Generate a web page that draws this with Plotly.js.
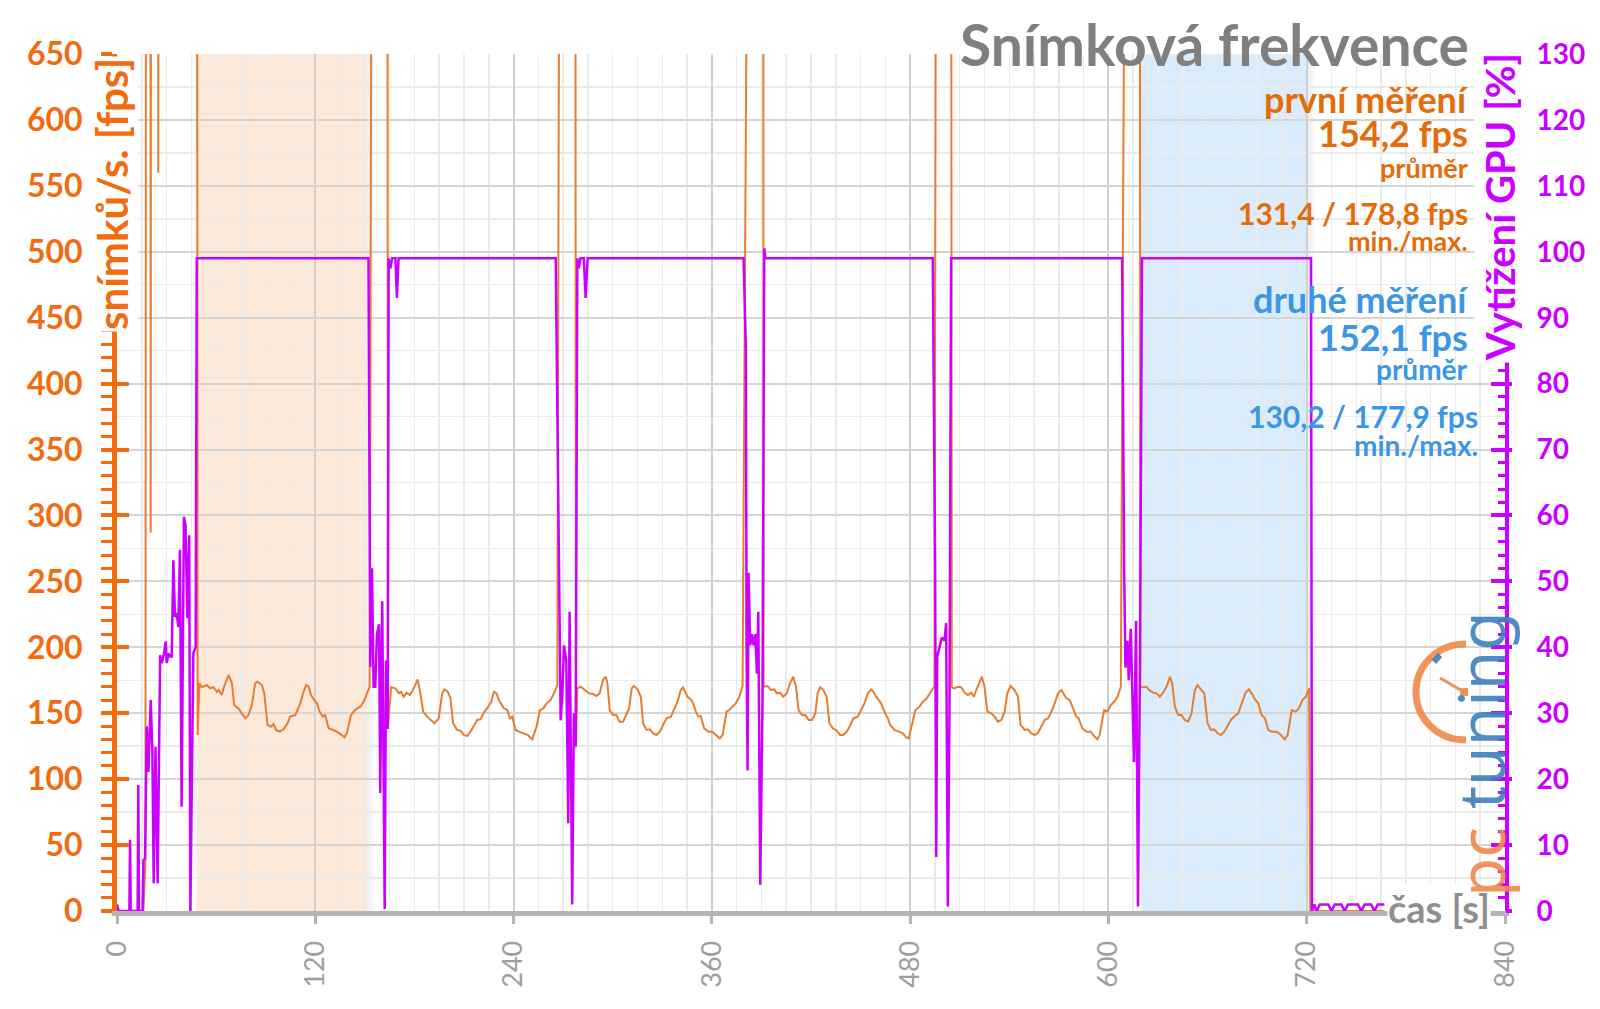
<!DOCTYPE html>
<html><head><meta charset="utf-8">
<script src="https://cdn.plot.ly/plotly-3.0.1.min.js"></script>
<style>html,body{margin:0;padding:0;background:#fff;} #chart{width:1600px;height:1009px;}</style>
</head><body><div id="chart"></div>
<script>
// ---- data ----
const fpsTime = [0,16,16.6,17.2,17.6,20.2,20.4,20.6,24.8,25.0,25.2,48.4,48.8,
 49.9,51.3,54.3,56.4,58.4,60.4,61.5,63.4,64.8,67.5,69.5,70.9,73.5,75.5,77.6,79.6,81.6,83.6,85,87.7,89.1,91.1,93.1,94.7,96.3,98.4,100.8,103.2,104.8,107.9,110.9,112.9,114.5,116,117.4,119.4,121,122.6,124.6,126,128.1,130.7,133.1,135.2,137.6,139.2,141.6,143.2,145.3,147.3,149.3,151.3,152.9,
 154.3,163.6,164.0,
 165.9,168.5,170.5,171.9,173.5,175.2,177.2,179.6,182,183.6,185.3,187.7,190.1,192.1,194.7,196.8,198.2,200.2,201.8,203.4,205.9,207.9,209.9,211.9,213.9,215.9,218,220,222.4,224,226.5,228.1,229.7,231.1,232.5,234.1,236.2,237.8,239.2,241.2,243.2,246.3,248.7,251.3,253.9,255.9,258,260,262.4,264.4,266.5,
 267.9,277.4,277.7,
 278.6,280.6,283.2,285.7,288.1,290.1,292.1,294.1,295.8,296.8,298.2,300.2,302.2,304.2,306.3,308.3,309.9,311.5,312.9,315,317,318.4,320.4,322.4,324.4,326.5,328.5,330.5,332.5,335.2,337.2,339.2,341.2,342.6,343.8,345.3,347.3,348.7,350.3,351.9,353.3,355.3,358,360.4,362.4,364.8,366.5,368.9,370.5,372.5,374.5,376.6,378.6,
 382,391.1,391.3,
 393.7,395.8,397.8,399.2,401.2,403.2,405.3,407.3,409.3,410.9,412.5,414.5,416.5,418.6,420.6,422.6,424,425.5,427.5,429.5,431.1,433.1,435.2,437.6,439.6,441.6,443.6,445.6,448.3,450.3,452.3,454.4,456.4,457.8,459.4,461,462.4,464.4,466.5,467.9,470.5,473.2,475.6,477.6,479.2,480.6,483.2,485.7,487.7,490.1,492.7,494.7,
 495.8,504.8,505.2,
 506.5,508.9,510.9,512.9,515,517,518.6,520,522,523.4,525,526.7,529.1,531.1,533.1,535.2,537.2,538.8,540.8,543.2,545.3,546.8,549.3,551.3,553.3,555.3,557.4,559.4,561.4,563.4,565.5,567.5,569.5,571.5,573.1,574.5,576.6,578.6,580.6,582,584.1,586.7,589.3,591.3,593.3,594.7,597.4,599.4,601.4,603.5,605.5,607.5,
 610.3,619.0,619.3,
 621,623,625,627.1,629.1,631.1,633.1,635.2,637.2,638.6,640.2,642.2,644.2,646.2,648.3,650.3,652.3,653.9,655.9,658,660,662,664,666.1,668.1,670.1,672.1,674.1,676.5,678.6,681,683,685,686.7,688.7,690.7,692.7,694.7,696.8,698.8,701.8,704.4,706.8,708.5,710.9,713.3,715.3,717.4,719.4,721.4,
 722.2,767];
const fpsValue = [0,0,18,38,900,900,287,900,900,560,900,900,133.5,
 172.7,169.7,171.4,168.9,169.7,166.3,167.6,163.8,170.1,179,172.9,156.2,153.7,149.9,146.1,148.6,156.2,172.7,173.9,171.4,165.1,141.1,139.8,141.8,137.3,136,137.8,142.4,147.4,148.6,157.5,166.3,171.4,170.1,163.8,160,157.5,151.2,147.4,148.6,138.6,137.3,136,134.2,131.7,135.2,148.6,151.2,153.7,154.9,158.7,165.1,170.1,
 900,900,139.8,
 169.7,168.9,165.1,166.3,162.5,165.6,163.8,168.9,175.7,165.1,151.2,147.4,144.9,142.4,146.1,165.1,168.1,166.3,161.3,142.4,137.3,136.8,133.5,132.7,136,140.3,144.9,145.4,151.2,153.7,158.7,166.3,165.1,160,157.5,153.7,152.4,146.1,147.4,137.3,136,134.8,133.5,130.2,139.8,152.4,153.7,157.5,160,165.1,171.4,
 900,900,124,
 168.9,170.1,167.6,165.1,164.6,163.1,165.1,175.2,177.7,172.7,152.4,148.6,148.6,143.6,143.6,148.6,153.7,168.9,170.6,168.1,162.5,142.4,137.3,137.8,134.8,133.5,136,141.1,146.1,147.4,153,158.7,167.6,169.7,166.3,162.5,160.5,157.5,151.2,147.4,147.9,138.6,136,136,133.5,131,133.5,151.2,152.4,155,157.5,162.5,170.6,
 900,900,170.1,
 170.6,167.6,168.1,165.1,165.6,162.5,165.1,172.7,177.7,170.1,152.4,148.6,148.6,144.9,144.9,149.9,165.1,169.7,167.6,162.5,142.4,138.6,137.3,133.5,133.5,136,140.3,146.1,147.4,152.4,157.5,165.1,168.1,166.3,162.5,160,157.5,151.2,146.1,141.1,137.3,136,134.8,131.7,131,138.6,152.4,155,158.7,161.3,166.3,170.6,
 900,900,169.7,
 168.9,170.1,169.7,165.6,163.8,165.6,162.5,167.6,173.9,177.7,170.1,151.2,149.9,147.4,143.6,144.9,151.2,165.1,170.6,167.6,162.5,141.1,137.3,137.8,134.8,133.5,135.2,139.8,144.9,146.1,151.2,157.5,165.1,167.6,163.8,161.3,160,153.7,147.4,146.1,138.6,136,136,132.7,130.2,133.5,152.4,151.2,156.2,158.7,162.5,170.1,
 900,900,170.1,
 169.7,170.1,167.1,165.6,165.1,162.5,165.6,170.1,177.7,172.7,155,148.6,148.6,144.9,143.6,149.9,167.6,171.4,168.1,165.1,142.4,137.3,137.8,134.8,133.5,136,140.3,144.9,147.9,149.9,158.7,165.6,168.1,165.1,160.5,157.5,148.6,146.1,137.3,136,136,133.5,130.2,133.5,152.4,151.2,153.7,160,162.5,168.9,
 0,0];

const gpuTime = [0,1,7.5,7.9,8.3,12.5,12.9,13.3,15.5,16,17,18,19,20.4,21.4,22.2,23.3,24.6,26.1,27.1,28.5,29.5,30.1,31.1,32.1,33.1,34.1,35.1,36.1,37.1,38.1,39.1,40.5,41.5,42.6,43.7,44.4,46.2,47.6,48.3,
 152.2,153.3,154.3,155.3,156.3,157.3,158.6,159.3,160.5,162,162.8,163.8,164.4,165.5,166.5,168.5,169.4,170.4,
 265.5,267.5,268.5,269.5,270.5,271.9,273.1,273.9,275.5,276.5,277.6,278.6,279.5,280.5,282.5,283.6,284.8,
 379.2,380.6,381,381.6,382.2,383.2,384.2,385.3,386.3,387.3,388.1,389.3,390.7,391.7,392.5,
 493.7,495.1,495.8,496.4,497.8,499.2,500.8,501.8,502.8,503.8,504.8,
 608.3,609.5,610.3,611.5,612.3,613.5,614.3,615.5,616.7,617.9,619.1,620.3,
 722.6,723.2,724.5,726,728,733,735,737,741,743,745,751,753,755,759,761,763,767];
const gpuValue = [1,0,0,10.8,0,0,19.1,0,0,7.7,8,28,21.1,32,24.4,4.2,24.9,4.2,38.8,37.6,39.1,40.9,37.6,39.1,38.6,38.6,53.2,44.6,45.2,43.1,54.8,15.8,59.8,58.5,44.4,57,0,39.1,40,99,
 99,37,52,34,34,42,43.5,17.9,47,0.3,38,27.6,99,97.5,99,99,93,99,
 99,51,28.9,33,40.3,38,13.3,45.4,1,30,25,99,97.5,99,99,93,99,
 99,85,40,21.3,51.3,40.3,42,40.3,42,36,45.4,4,33,100.5,99,
 99,53,8.2,38.6,40.3,41.5,41,43.7,0.7,30,99,
 99,52,36.9,41,35,42.8,35.5,22.6,44,0.7,38,99,
 99,0,1,0,1,1,0,1,1,0,1,1,0,1,1,0,1,1];

const xTicks = [0,120,240,360,480,600,720,840];
const runStart = [48.5, 620];
const runEnd = [151.5, 720.6];

const titleText = 'Snímková frekvence';
const leftTitle = 'snímků/s. [fps]';
const rightTitle = 'Vytížení GPU [%]';
const xTitle = 'čas [s]';
const run1Lines = ['první měření', '154,2 fps', 'průměr', '131,4 / 178,8 fps', 'min./max.'];
const run2Lines = ['druhé měření', '152,1 fps', 'průměr', '130,2 / 177,9 fps', 'min./max.'];

// ---- styling ----
const FONT = 'Lato, "Open Sans", sans-serif';
const ORANGE = '#f26b0f';
const ORANGE_TXT = '#e46c0a';
const LINE_OR = '#e67e32';
const PURPLE = '#cc00ff';
const BLUE = '#3c96e6';
const GRAY = '#7f7f7f';

const traces = [
  {x: fpsTime, y: fpsValue, mode: 'lines', line: {color: LINE_OR, width: 2}, yaxis: 'y', hoverinfo: 'skip'},
  {x: gpuTime, y: gpuValue, mode: 'lines', line: {color: PURPLE, width: 2.5}, yaxis: 'y2', hoverinfo: 'skip'},
  {x: [xTicks[0]], y: [0], mode: 'markers', marker: {opacity: 0}, yaxis: 'y3', hoverinfo: 'skip'},
  {x: [xTicks[0]], y: [0], mode: 'markers', marker: {opacity: 0}, yaxis: 'y4', hoverinfo: 'skip'}
];

const regionColors = ['rgba(252,226,204,0.75)', 'rgba(206,228,250,0.75)'];
const shapes = [];
runStart.forEach((s, i) => {
  shapes.push({type: 'rect', xref: 'x', yref: 'paper', x0: s, x1: runEnd[i], y0: 0, y1: 1,
    fillcolor: regionColors[i], line: {width: 0}, layer: 'below'});
  // soft shadow at the region edges
  [1.5, 3, 4.5].forEach(w => {
    shapes.push({type: 'rect', xref: 'x', yref: 'paper', x0: runEnd[i], x1: runEnd[i] + w, y0: 0, y1: 1,
      fillcolor: 'rgba(120,120,120,0.035)', line: {width: 0}, layer: 'below'});
    shapes.push({type: 'rect', xref: 'x', yref: 'paper', x0: s - w / 1.5, x1: s, y0: 0, y1: 1,
      fillcolor: 'rgba(120,120,120,0.02)', line: {width: 0}, layer: 'below'});
  });
});
// logo gauge (decoration)
const LX = (1464 - 117) / 1388, LY = (911 - 692) / 857;
shapes.push({type: 'path', xref: 'paper', yref: 'paper', xsizemode: 'pixel', ysizemode: 'pixel', xanchor: LX, yanchor: LY,
  path: 'M 2,48 C -26.5,48 -48,26.5 -48,0 C -48,-26.5 -26.5,-48 2,-48', line: {color: 'rgba(240,136,74,0.9)', width: 7}, layer: 'above'});
shapes.push({type: 'path', xref: 'paper', yref: 'paper', xsizemode: 'pixel', ysizemode: 'pixel', xanchor: LX, yanchor: LY,
  path: 'M 0,0 L -24,14', line: {color: 'rgba(240,136,74,0.9)', width: 3}, layer: 'above'});
shapes.push({type: 'path', xref: 'paper', yref: 'paper', xsizemode: 'pixel', ysizemode: 'pixel', xanchor: LX, yanchor: LY,
  path: 'M -4,-4 L 4,-4 L 4,4 L -4,4 Z', fillcolor: 'rgba(240,136,74,0.9)', line: {width: 0}, layer: 'above'});
shapes.push({type: 'path', xref: 'paper', yref: 'paper', xsizemode: 'pixel', ysizemode: 'pixel', xanchor: LX, yanchor: LY,
  path: 'M -30,30 L -24,37', line: {color: 'rgba(63,127,191,0.9)', width: 6}, layer: 'above'});

function ann(text, yPix, size, color, xPix) {
  return {text: text, xref: 'paper', yref: 'paper', x: ((xPix || 1469) - 117) / 1388, y: (911 - yPix) / 857,
    xanchor: 'right', yanchor: 'middle', showarrow: false, borderpad: 0,
    font: {family: FONT, size: size, color: color, weight: 'bold'}};
}
const sizes1 = [36, 36, 27, 30, 27];
const sizes2 = [36, 36, 28, 30, 28];
const y1 = [99, 133, 168, 213, 240];
const y2 = [299, 337, 369, 416, 445];
const annotations = [];
run1Lines.forEach((t, i) => annotations.push(ann(t, y1[i], sizes1[i], ORANGE_TXT)));
run2Lines.forEach((t, i) => annotations.push(ann(t, y2[i], sizes2[i], BLUE, i >= 3 ? 1479 : 1469)));
annotations.push({text: leftTitle, xref: 'paper', yref: 'paper', x: (112 - 117) / 1388, y: (911 - 194) / 857,
  xanchor: 'center', yanchor: 'middle', textangle: -90, showarrow: false, bgcolor: '#ffffff', borderpad: 1,
  font: {family: FONT, size: 42, color: ORANGE, weight: 'bold'}});
annotations.push({text: rightTitle, xref: 'paper', yref: 'paper', x: (1500 - 117) / 1388, y: (911 - 207) / 857,
  xanchor: 'center', yanchor: 'middle', textangle: -90, showarrow: false, bgcolor: '#ffffff', borderpad: 1,
  font: {family: FONT, size: 40, color: PURPLE, weight: 'bold'}});
annotations.push({text: xTitle, xref: 'paper', yref: 'paper', x: (1439 - 117) / 1388, y: (911 - 908) / 857,
  xanchor: 'center', yanchor: 'middle', showarrow: false, bgcolor: '#ffffff', borderpad: 0,
  font: {family: FONT, size: 38, color: '#8f8f8f', weight: 'bold'}});
annotations.push({text: 'tuning', xref: 'paper', yref: 'paper', x: (1480 - 117) / 1388, y: (911 - 710) / 857,
  xanchor: 'center', yanchor: 'middle', textangle: -90, showarrow: false, opacity: 0.9,
  font: {family: '"Noto Sans", sans-serif', size: 64, color: '#3f7fbf'}});
annotations.push({text: 'pc', xref: 'paper', yref: 'paper', x: (1480 - 117) / 1388, y: (911 - 862) / 857,
  xanchor: 'center', yanchor: 'middle', textangle: -90, showarrow: false, opacity: 0.9,
  font: {family: '"Noto Sans", sans-serif', size: 64, color: '#f0884a'}});

const layout = {
  width: 1600, height: 1009,
  margin: {l: 117, r: 95, t: 54, b: 98},
  paper_bgcolor: '#ffffff', plot_bgcolor: '#ffffff', showlegend: false,
  font: {family: FONT},
  title: {text: titleText, x: 1469 / 1600, xanchor: 'right', y: 1 - 46 / 1009, yanchor: 'middle',
    font: {family: FONT, size: 57, color: GRAY, weight: 'bold'}},
  xaxis: {range: [0, 840], tickmode: 'array', tickvals: xTicks, ticktext: xTicks.map(String), tickangle: -90,
    tickfont: {family: FONT, size: 27, color: '#9e9e9e'}, ticks: 'outside', ticklen: 8, tickwidth: 3, tickcolor: '#b5b5b5',
    showline: true, linecolor: '#b5b5b5', linewidth: 5, showgrid: true, gridcolor: '#d0d0d0', gridwidth: 2,
    minor: {dtick: 15, tick0: 0, showgrid: true, gridcolor: '#ebebeb', gridwidth: 1.5}, zeroline: false, ticklabelstandoff: 6},
  yaxis: {range: [0, 650], tick0: 0, dtick: 50, tickfont: {family: FONT, size: 32, color: ORANGE, weight: 'bold'},
    ticks: 'outside', ticklen: 11, tickwidth: 4, tickcolor: ORANGE,
    minor: {dtick: 10, ticks: 'outside', ticklen: 11, tickwidth: 3, tickcolor: ORANGE, showgrid: false},
    showline: true, linecolor: ORANGE, linewidth: 5, showgrid: true, gridcolor: '#d5d5d5', gridwidth: 2,
    zeroline: false, ticklabelstandoff: 12},
  yaxis3: {overlaying: 'y', range: [0, 650], tick0: 0, dtick: 50, ticks: 'inside', ticklen: 12, tickwidth: 4, tickcolor: ORANGE,
    showticklabels: false, showgrid: false, showline: false, zeroline: false,
    minor: {dtick: 25, showgrid: true, gridcolor: '#ebebeb', gridwidth: 1.5}},
  yaxis2: {overlaying: 'y', side: 'right', anchor: 'x', range: [0, 130], tick0: 0, dtick: 10,
    tickfont: {family: FONT, size: 28, color: PURPLE, weight: 'bold'},
    ticks: 'inside', ticklen: 14, tickwidth: 4, tickcolor: PURPLE,
    minor: {dtick: 2, ticks: 'inside', ticklen: 7, tickwidth: 3, tickcolor: PURPLE},
    showline: true, linecolor: PURPLE, linewidth: 4, showgrid: false, zeroline: false, ticklabelstandoff: 22},
  yaxis4: {overlaying: 'y', side: 'right', anchor: 'x', range: [0, 130], tick0: 0, dtick: 10,
    ticks: 'outside', ticklen: 6, tickwidth: 4, tickcolor: PURPLE, showticklabels: false,
    showgrid: false, showline: false, zeroline: false},
  shapes: shapes,
  annotations: annotations
};

Plotly.newPlot('chart', traces, layout, {displayModeBar: false, staticPlot: true});
</script></body></html>
